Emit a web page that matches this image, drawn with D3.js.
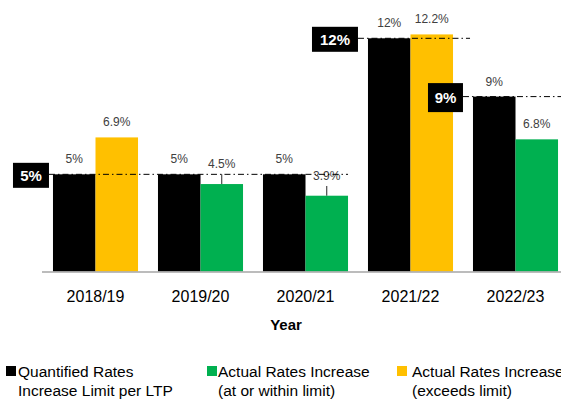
<!DOCTYPE html>
<html>
<head>
<meta charset="utf-8">
<script src="https://cdn.jsdelivr.net/npm/d3@7"></script>
<style>
  body { margin: 0; background: #fff; }
  svg { font-family: "Liberation Sans", Arial, sans-serif; }
</style>
</head>
<body>
<div id="chart"></div>
<script>
// Chart data
var years = ["2018/19", "2019/20", "2020/21", "2021/22", "2022/23"];
var limitValues = [5, 5, 5, 12, 9];
var actualValues = [6.9, 4.5, 3.9, 12.2, 6.8];
var errorPlus = [0, 0.5, 0.5, 0, 0];
var limitLines = [5, 12, 9];
var legendLabels = [
  ["Quantified Rates", "Increase Limit per LTP"],
  ["Actual Rates Increase", "(at or within limit)"],
  ["Actual Rates Increase", "(exceeds limit)"]
];

var colBlack = "#000000";
var colGreen = "#00B050";
var colYellow = "#FFC000";

var svgWidth = 561;
var svgHeight = 400;

var svg = d3.select("#chart")
  .append("svg")
  .attr("width", svgWidth)
  .attr("height", svgHeight);

var rows = years.map(function(y, i) {
  return {year: y, limit: limitValues[i], actual: actualValues[i], err: errorPlus[i]};
});

// Scales
var x0 = d3.scaleBand()
  .domain(years)
  .range([43, 568])
  .paddingInner(0.19)
  .paddingOuter(0.095);

var x1 = d3.scaleBand()
  .domain(["limit", "actual"])
  .range([0, x0.bandwidth()]);

var y = d3.scaleLinear()
  .domain([0, 12])
  .range([271.5, 38.3]);

// Bars
var groups = svg.selectAll("g.year")
  .data(rows)
  .enter()
  .append("g")
  .attr("class", "year")
  .attr("transform", d => `translate(${x0(d.year)},0)`);

groups.append("rect")
  .attr("x", x1("limit"))
  .attr("y", d => y(d.limit))
  .attr("width", x1.bandwidth())
  .attr("height", d => y(0) - y(d.limit))
  .attr("fill", colBlack);

groups.append("rect")
  .attr("x", x1("actual"))
  .attr("y", d => y(d.actual))
  .attr("width", x1.bandwidth())
  .attr("height", d => y(0) - y(d.actual))
  .attr("fill", d => d.actual > d.limit ? colYellow : colGreen);

// small error whiskers on some actual bars
groups.filter(d => d.err > 0)
  .append("line")
  .attr("x1", x1("actual") + x1.bandwidth() / 2)
  .attr("x2", x1("actual") + x1.bandwidth() / 2)
  .attr("y1", d => y(d.actual))
  .attr("y2", d => y(d.actual + d.err))
  .attr("stroke", "#262626")
  .attr("stroke-width", 1);

// Data labels
groups.append("text")
  .attr("x", x1("limit") + x1.bandwidth() / 2)
  .attr("y", d => y(d.limit) - 11)
  .attr("text-anchor", "middle")
  .style("font-size", "12px")
  .attr("fill", "#404040")
  .text(d => d.limit + "%");

groups.append("text")
  .attr("x", x1("actual") + x1.bandwidth() / 2)
  .attr("y", d => d.err > 0 ? y(d.actual + d.err) - 6 : y(d.actual) - 11)
  .attr("text-anchor", "middle")
  .style("font-size", "12px")
  .attr("fill", "#404040")
  .text(d => d.actual + "%");

// Limit reference lines with black tags
var lineSpecs = [
  {v: limitLines[0], from: years[0], to: years[2], boxW: 36, boxH: 25, gap: 4, extra: 0},
  {v: limitLines[1], from: years[3], to: years[3], boxW: 46, boxH: 25, gap: 10, extra: 17},
  {v: limitLines[2], from: years[4], to: null, boxW: 35, boxH: 29, gap: 10, extra: 0}
];

lineSpecs.forEach(function(s) {
  var boxRight = x0(s.from) - s.gap;
  var xEnd = s.to ? x0(s.to) + x0.bandwidth() + s.extra : svgWidth;
  var yy = y(s.v);
  svg.append("line")
    .attr("x1", boxRight)
    .attr("x2", xEnd)
    .attr("y1", yy)
    .attr("y2", yy)
    .attr("stroke", "#000")
    .attr("stroke-width", 1)
    .attr("stroke-dasharray", "6,3,1.5,3");
  svg.append("rect")
    .attr("x", boxRight - s.boxW)
    .attr("y", yy - s.boxH / 2 + 1)
    .attr("width", s.boxW)
    .attr("height", s.boxH)
    .attr("fill", "#000");
  svg.append("text")
    .attr("x", boxRight - s.boxW / 2)
    .attr("y", yy + 1)
    .attr("dy", "0.36em")
    .attr("text-anchor", "middle")
    .attr("fill", "#fff")
    .style("font-size", "15px")
    .style("font-weight", "bold")
    .text(s.v + "%");
});

// X axis
var xAxis = svg.append("g")
  .attr("transform", `translate(0, ${y(0)})`)
  .call(d3.axisBottom(x0).tickSize(0).tickPadding(19));
xAxis.select(".domain").remove();
xAxis.selectAll("text")
  .style("font-size", "16px")
  .style("font-family", "'Liberation Sans', Arial, sans-serif")
  .attr("fill", "#000");

svg.append("line")
  .attr("x1", 42)
  .attr("x2", svgWidth)
  .attr("y1", y(0) + 0.5)
  .attr("y2", y(0) + 0.5)
  .attr("stroke", "#a6a6a6")
  .attr("stroke-width", 1.5);

svg.append("text")
  .attr("x", 286)
  .attr("y", 330)
  .attr("text-anchor", "middle")
  .style("font-size", "15px")
  .style("font-weight", "bold")
  .text("Year");

// Legend
var legendX = [6, 207, 397];
var legendTextX = [18, 218, 412];
var legendColors = [colBlack, colGreen, colYellow];
legendLabels.forEach(function(lines, i) {
  svg.append("rect")
    .attr("x", legendX[i])
    .attr("y", 366)
    .attr("width", 10)
    .attr("height", 10)
    .attr("fill", legendColors[i]);
  var t = svg.append("text")
    .attr("x", legendTextX[i])
    .attr("y", 377)
    .style("font-size", "15.5px")
    .attr("fill", "#000");
  lines.forEach(function(l, j) {
    t.append("tspan")
      .attr("x", legendTextX[i])
      .attr("dy", j === 0 ? 0 : 19)
      .text(l);
  });
});
</script>
</body>
</html>
